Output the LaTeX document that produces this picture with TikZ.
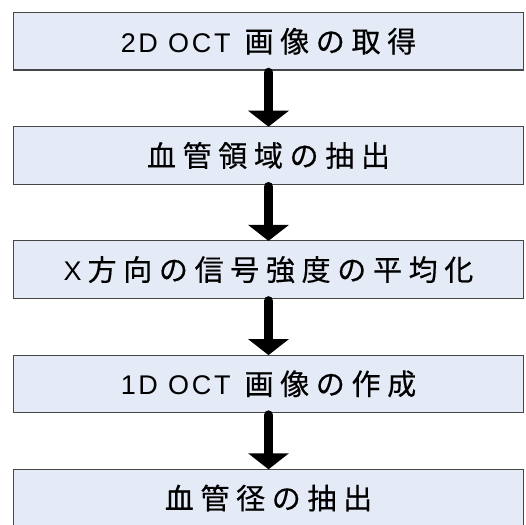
\documentclass[tikz,border=0pt]{standalone}
\usepackage{fontspec}
\usetikzlibrary{arrows.meta}
\newfontfamily\jpfont{Noto Sans CJK JP}[LetterSpace=23,FakeBold=0.4]
\newfontfamily\latfontraw{Liberation Sans}[LetterSpace=10]
\newcommand{\lat}[1]{{\fontsize{27bp}{30bp}\selectfont\latfontraw #1}}
\definecolor{boxfill}{RGB}{228,235,246}
\definecolor{boxline}{RGB}{70,70,70}
\tikzset{
  stepbox/.style={draw=boxline, fill=boxfill, line width=1.1bp, rectangle,
    minimum width=510bp, minimum height=57.5bp, inner sep=0pt, outer sep=0pt,
    font=\fontsize{29bp}{32bp}\selectfont\jpfont},
  flowarrow/.style={line width=9.5bp, line cap=round, black,
    -{Triangle[width=40bp,length=16bp]}, shorten <=2.5bp}
}
\begin{document}
\begin{tikzpicture}[x=1bp,y=-1bp]
\useasboundingbox (0,0) rectangle (525,525);
\clip (0,0) rectangle (525,525);
\fill[white] (0,0) rectangle (525,525);
\node[stepbox] (b1) at (268.5,41.25) {\lat{2D OCT}\hspace{14bp}画像の取得};
\node[stepbox] (b2) at (268.5,155.45) {血管領域の抽出};
\node[stepbox] (b3) at (268.5,269.65) {\lat{X}\hspace{6bp}方向の信号強度の平均化};
\node[stepbox] (b4) at (268.5,383.85) {\lat{1D OCT}\hspace{14bp}画像の作成};
\node[stepbox] (b5) at (268.5,498.05) {血管径の抽出};
\draw[flowarrow] (b1.south) -- (b2.north);
\draw[flowarrow] (b2.south) -- (b3.north);
\draw[flowarrow] (b3.south) -- (b4.north);
\draw[flowarrow] (b4.south) -- (b5.north);
\end{tikzpicture}
\end{document}
